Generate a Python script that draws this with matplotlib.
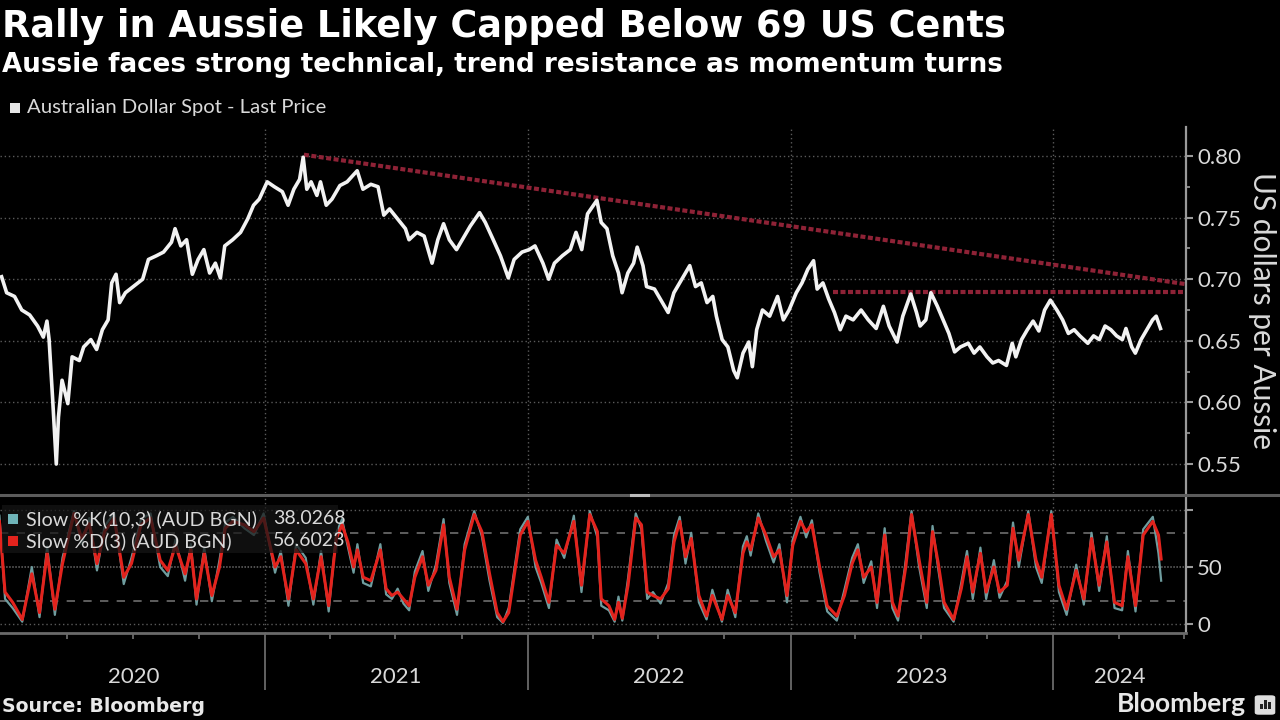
import matplotlib
matplotlib.use("Agg")
import matplotlib.pyplot as plt
import matplotlib.dates as mdates
import matplotlib.ticker as mticker
from matplotlib.patches import Rectangle, FancyBboxPatch
from matplotlib.lines import Line2D
import pandas as pd

# ---------------- data ----------------
price_dates = [
    "2020-01-01", "2020-01-08", "2020-01-19", "2020-01-29", "2020-02-09", "2020-02-20", "2020-02-28",
    "2020-03-04", "2020-03-07", "2020-03-12", "2020-03-17", "2020-03-20", "2020-03-25", "2020-04-02",
    "2020-04-08", "2020-04-18", "2020-04-24", "2020-05-04", "2020-05-12", "2020-05-20", "2020-05-28",
    "2020-06-02", "2020-06-08", "2020-06-13", "2020-06-21", "2020-07-02", "2020-07-15", "2020-07-23",
    "2020-08-03", "2020-08-13", "2020-08-24", "2020-08-29", "2020-09-06", "2020-09-14", "2020-09-22",
    "2020-09-30", "2020-10-08", "2020-10-16", "2020-10-24", "2020-10-31", "2020-11-06", "2020-11-17",
    "2020-11-28", "2020-12-08", "2020-12-16", "2020-12-24",
    "2021-01-04", "2021-01-14", "2021-01-25", "2021-02-02", "2021-02-10", "2021-02-18", "2021-02-23",
    "2021-02-28", "2021-03-06", "2021-03-14", "2021-03-19", "2021-03-27", "2021-04-04", "2021-04-15",
    "2021-04-25", "2021-05-09", "2021-05-17", "2021-05-28", "2021-06-07", "2021-06-15", "2021-06-23",
    "2021-07-04", "2021-07-15", "2021-07-20", "2021-07-31", "2021-08-10", "2021-08-21", "2021-08-29",
    "2021-09-06", "2021-09-14", "2021-09-24", "2021-10-02", "2021-10-13", "2021-10-26", "2021-11-03",
    "2021-11-14", "2021-11-24", "2021-12-05", "2021-12-13", "2021-12-24",
    "2022-01-03", "2022-01-11", "2022-01-22", "2022-01-30", "2022-02-07", "2022-02-18", "2022-03-01",
    "2022-03-09", "2022-03-17", "2022-03-25", "2022-04-07", "2022-04-13", "2022-04-21", "2022-04-29",
    "2022-05-07", "2022-05-12", "2022-05-20", "2022-05-28", "2022-06-02", "2022-06-10", "2022-06-15",
    "2022-06-26", "2022-07-07", "2022-07-15", "2022-07-23", "2022-08-03", "2022-08-14", "2022-08-22",
    "2022-08-30", "2022-09-07", "2022-09-15", "2022-09-20", "2022-09-28", "2022-10-06", "2022-10-14",
    "2022-10-19", "2022-10-27", "2022-11-04", "2022-11-09", "2022-11-15", "2022-11-23", "2022-12-03",
    "2022-12-14", "2022-12-22", "2022-12-30",
    "2023-01-09", "2023-01-17", "2023-01-25", "2023-02-02", "2023-02-07", "2023-02-15", "2023-02-23",
    "2023-03-03", "2023-03-11", "2023-03-19", "2023-03-29", "2023-04-09", "2023-04-19", "2023-04-30",
    "2023-05-10", "2023-05-18", "2023-05-29", "2023-06-06", "2023-06-17", "2023-06-25", "2023-06-30",
    "2023-07-08", "2023-07-15", "2023-07-24", "2023-08-01", "2023-08-09", "2023-08-17", "2023-08-25",
    "2023-09-05", "2023-09-13", "2023-09-21", "2023-10-01", "2023-10-09", "2023-10-17", "2023-10-28",
    "2023-11-05", "2023-11-10", "2023-11-18", "2023-11-26", "2023-12-04", "2023-12-12", "2023-12-20",
    "2023-12-28",
    "2024-01-06", "2024-01-14", "2024-01-22", "2024-01-30", "2024-02-07", "2024-02-18", "2024-02-26",
    "2024-03-05", "2024-03-13", "2024-03-21", "2024-03-29", "2024-04-06", "2024-04-11", "2024-04-19",
    "2024-04-24", "2024-05-02", "2024-05-10", "2024-05-18", "2024-05-23", "2024-05-29",
]
price_vals = [
    0.702, 0.689, 0.686, 0.675, 0.671, 0.662, 0.653,
    0.666, 0.651, 0.602, 0.550, 0.588, 0.618, 0.599,
    0.637, 0.634, 0.645, 0.651, 0.643, 0.659, 0.667,
    0.697, 0.704, 0.681, 0.689, 0.694, 0.700, 0.716,
    0.719, 0.722, 0.730, 0.741, 0.727, 0.732, 0.704,
    0.716, 0.724, 0.705, 0.713, 0.701, 0.727, 0.732,
    0.738, 0.749, 0.760, 0.765,
    0.779, 0.775, 0.771, 0.760, 0.773, 0.781, 0.799,
    0.773, 0.779, 0.768, 0.779, 0.760, 0.765, 0.776,
    0.779, 0.788, 0.773, 0.777, 0.775, 0.752, 0.757,
    0.749, 0.741, 0.732, 0.738, 0.735, 0.713, 0.732,
    0.745, 0.732, 0.724, 0.732, 0.743, 0.754, 0.746,
    0.732, 0.719, 0.701, 0.716, 0.722,
    0.724, 0.727, 0.713, 0.700, 0.713, 0.719, 0.724,
    0.738, 0.724, 0.753, 0.764, 0.746, 0.741, 0.719,
    0.705, 0.689, 0.705, 0.713, 0.726, 0.711, 0.694,
    0.692, 0.681, 0.673, 0.689, 0.700, 0.711, 0.694,
    0.697, 0.681, 0.686, 0.670, 0.651, 0.645, 0.626,
    0.620, 0.640, 0.649, 0.629, 0.659, 0.675, 0.670,
    0.686, 0.667, 0.675,
    0.689, 0.697, 0.708, 0.715, 0.692, 0.697, 0.684,
    0.673, 0.659, 0.670, 0.667, 0.675, 0.667, 0.660,
    0.678, 0.662, 0.649, 0.670, 0.688, 0.673, 0.662,
    0.667, 0.689, 0.678, 0.667, 0.656, 0.641, 0.645,
    0.648, 0.640, 0.645, 0.637, 0.632, 0.634, 0.630,
    0.648, 0.637, 0.651, 0.659, 0.666, 0.658, 0.675,
    0.683,
    0.675, 0.667, 0.656, 0.659, 0.654, 0.648, 0.654,
    0.651, 0.662, 0.659, 0.654, 0.651, 0.660, 0.645,
    0.640, 0.651, 0.659, 0.667, 0.670, 0.660,
]

# resistance lines
trend_dates = ["2021-02-24", "2024-07-03"]
trend_vals = [0.801, 0.696]
flat_dates = ["2023-03-01", "2024-07-03"]
flat_vals = [0.6895, 0.6895]

# slow stochastics, dates as days after 2020-01-01
stoch_day = [
    -3, 4.8, 15.4, 28.7, 42.0, 52.7, 63.3, 74.0, 84.6, 100.6, 111.2, 121.8, 132.5, 143.1, 156.4,
    169.7, 180.4, 193.7, 207.0, 220.3, 230.9, 241.6, 254.9, 262.9, 270.8, 281.5, 292.1, 302.7,
    310.7, 321.4, 337.3, 350.6, 364.0, 379.9, 387.9, 398.5, 409.2, 422.5, 433.1, 443.8, 454.4,
    465.0, 473.0, 481.0, 489.0, 494.3, 502.3, 513.0, 526.2, 534.2, 542.2, 550.2, 558.2, 566.2,
    574.1, 584.8, 592.8, 603.4, 614.0, 622.0, 632.7, 643.3, 656.6, 667.2, 677.9, 688.5, 696.5,
    704.5, 720.5, 731.1, 741.8, 749.7, 760.4, 771.0, 781.6, 795.0, 805.6, 817.1, 827.7, 833.1,
    843.7, 851.7, 857.0, 862.3, 870.3, 881.0, 888.9, 896.9, 904.9, 915.5, 926.2, 934.2, 942.1,
    950.1, 958.1, 968.7, 979.4, 987.4, 1000.7, 1008.7, 1019.3, 1029.9, 1035.3, 1040.6, 1051.2,
    1061.9, 1072.5, 1080.5, 1091.1, 1099.1, 1109.8, 1117.7, 1125.7, 1136.4, 1147.0, 1160.3,
    1170.9, 1181.6, 1189.6, 1197.6, 1208.2, 1216.2, 1226.8, 1237.5, 1245.4, 1256.1, 1264.1,
    1274.7, 1285.3, 1293.3, 1301.3, 1309.3, 1322.6, 1333.2, 1341.2, 1349.2, 1359.8, 1367.8,
    1378.5, 1386.4, 1397.1, 1405.1, 1413.1, 1426.3, 1437.0, 1445.0, 1458.3, 1468.9, 1479.6,
    1492.9, 1503.5, 1514.2, 1524.8, 1535.4, 1546.1, 1556.7, 1564.7, 1575.3, 1585.9, 1599.3,
    1607.2, 1610.9,
]
stoch_d = [
    90, 28, 19, 4, 44, 10, 62, 13, 53, 97, 75, 88, 53, 81, 93,
    41, 53, 87, 93, 56, 47, 69, 44, 65, 22, 62, 25, 50,
    84, 90, 87, 81, 93, 50, 59, 22, 65, 53, 22, 59, 16,
    75, 87, 72, 50, 65, 41, 38, 65, 31, 25, 28, 22, 16,
    41, 59, 34, 47, 87, 41, 13, 65, 96, 81, 44, 10, 2,
    10, 78, 90, 56, 41, 19, 69, 62, 90, 34, 96, 81, 22,
    16, 4, 19, 5, 34, 93, 87, 28, 25, 22, 31, 72, 90,
    59, 75, 25, 7, 25, 4, 25, 10, 62, 72, 65, 93,
    78, 59, 65, 25, 69, 90, 81, 87, 50, 16, 7,
    25, 53, 65, 41, 50, 19, 78, 19, 7, 50, 96,
    56, 19, 81, 53, 19, 4, 31, 59, 28, 62, 28,
    50, 28, 34, 84, 56, 96, 56, 41, 96, 34, 13,
    47, 22, 75, 34, 72, 19, 16, 59, 16, 78, 90,
    78, 57,
]
stoch_k = [
    95, 22, 14, 2, 50, 6, 68, 8, 58, 99, 70, 93, 47, 86, 97,
    35, 58, 92, 97, 50, 42, 74, 38, 70, 17, 67, 20, 56,
    89, 94, 84, 78, 97, 45, 64, 16, 70, 58, 17, 64, 11,
    80, 92, 68, 45, 70, 36, 33, 70, 26, 22, 31, 18, 12,
    46, 64, 29, 52, 92, 36, 8, 70, 99, 77, 38, 6, 1,
    14, 83, 94, 50, 36, 14, 74, 58, 95, 28, 99, 76, 16,
    12, 2, 24, 3, 40, 97, 83, 22, 28, 18, 36, 78, 94,
    53, 80, 19, 4, 30, 2, 30, 6, 68, 77, 60, 97,
    73, 54, 70, 19, 74, 94, 76, 91, 45, 11, 3,
    30, 58, 70, 36, 55, 14, 84, 14, 3, 56, 99,
    50, 14, 86, 48, 14, 2, 36, 64, 22, 67, 22,
    56, 23, 38, 89, 50, 99, 50, 36, 99, 28, 8,
    52, 17, 80, 29, 77, 14, 12, 64, 11, 83, 94,
    62, 38,
]

price_y_ticks = [0.55, 0.60, 0.65, 0.70, 0.75, 0.80]
price_y_labels = ["0.55", "0.60", "0.65", "0.70", "0.75", "0.80"]
stoch_y_ticks = [0, 50, 100]
stoch_y_labels = ["0", "50", ""]
year_starts = ["2021-01-01", "2022-01-01", "2023-01-01", "2024-01-01"]
year_labels = ["2020", "2021", "2022", "2023", "2024"]
year_label_dates = ["2020-07-02", "2021-07-02", "2022-07-02", "2023-07-02", "2024-04-03"]

# ---------------- style ----------------
BG = "black"
TXT = "#d9d9d9"
GRID = "#5a5a5a"
AXC = "#9a9a9a"
RES = "#8e2236"
FONT = ["Lato", "DejaVu Sans"]
plt.rcParams["font.family"] = FONT

W, H = 1280, 720
fig = plt.figure(figsize=(12.8, 7.2), dpi=100, facecolor=BG)


def fx(px):
    return px / W


def fy(py):
    return 1 - py / H


x_right = 1186
ax1 = fig.add_axes([0, fy(493), fx(x_right), (493 - 127) / H])
ax2 = fig.add_axes([0, fy(633), fx(x_right), (633 - 497) / H], sharex=ax1)

for ax in (ax1, ax2):
    ax.set_facecolor(BG)
    for s in ("top", "left", "bottom"):
        ax.spines[s].set_visible(False)
    ax.spines["right"].set_color(AXC)
    ax.spines["right"].set_linewidth(1.6)
    ax.yaxis.tick_right()

pd_price = pd.to_datetime(price_dates)
ax1.plot(pd_price, price_vals, color="#f2f2f2", lw=2.6, solid_joinstyle="round", zorder=3)
ax1.plot(pd.to_datetime(trend_dates), trend_vals, color=RES, lw=3, ls=(0, (1.2, 0.6)), zorder=2)
ax1.plot(pd.to_datetime(flat_dates), flat_vals, color=RES, lw=3, ls=(0, (1.2, 0.6)), zorder=2)

xmin = pd.Timestamp("2019-12-29 19:00")
xmax = pd.Timestamp("2024-07-03 10:00")
ax1.set_xlim(xmin, xmax)
ax1.set_ylim(0.5265, 0.8235)
ax1.set_yticks(price_y_ticks)
ax1.set_yticklabels(price_y_labels)
ax1.set_yticks([0.575, 0.625, 0.675, 0.725, 0.775], minor=True)
ax1.tick_params(axis="y", which="major", direction="out", length=5, width=1.5, color=AXC,
                labelcolor=TXT, labelsize=16, pad=3)
ax1.tick_params(axis="y", which="minor", direction="out", length=3, width=1.2, color=AXC)
ax1.grid(axis="y", which="major", color=GRID, lw=1, ls=(0, (1, 2)))

ax1.xaxis.set_major_locator(mticker.FixedLocator(mdates.date2num(pd.to_datetime(year_starts))))
ax1.xaxis.set_minor_locator(mdates.MonthLocator(bymonth=[4, 7, 10]))
ax1.grid(axis="x", which="major", color=GRID, lw=1, ls=(0, (1, 2)))
ax1.tick_params(axis="x", which="both", length=0, labelbottom=False)

# stochastics panel
stoch_dates = pd.Timestamp("2020-01-01") + pd.to_timedelta(stoch_day, unit="D")
ax2.plot(stoch_dates, stoch_k, color="#6f9d9f", lw=1.6, zorder=3)
ax2.plot(stoch_dates, stoch_d, color="#e3231d", lw=2.2, zorder=4)
ax2.set_ylim(-7.9, 111.4)
ax2.set_yticks(stoch_y_ticks)
ax2.set_yticklabels(stoch_y_labels)
ax2.tick_params(axis="y", which="major", direction="out", length=5, width=1.5, color=AXC,
                labelcolor=TXT, labelsize=16, pad=3)
for v in (0, 100):
    ax2.axhline(v, color=GRID, lw=1, ls=(0, (1, 2)), zorder=1)
ax2.axhline(50, color="#6a6a6a", lw=1.1, ls=(0, (1, 1)), zorder=1)
for v in (20, 80):
    ax2.axhline(v, color="#6e6e6e", lw=1.2, ls=(0, (5, 5)), zorder=1)
ax2.grid(axis="x", which="major", color=GRID, lw=1, ls=(0, (1, 2)))
ax2.spines["bottom"].set_visible(True)
ax2.spines["bottom"].set_color("#6a6a6a")
ax2.spines["bottom"].set_linewidth(2)
ax2.tick_params(axis="x", which="major", direction="out", length=41, width=1.3, color="#6a6a6a",
                labelbottom=False)
ax2.tick_params(axis="x", which="minor", direction="out", length=4, width=1.3, color="#6a6a6a",
                labelbottom=False)

trans = ax2.get_xaxis_transform()
for lab, d in zip(year_labels, year_label_dates):
    ax2.text(pd.Timestamp(d), -(677 - 633) / (633 - 497), lab, transform=trans, ha="center",
             va="center", color=TXT, fontsize=16)

# separator between panes
fig.add_artist(Line2D([0, 1], [fy(495), fy(495)], color="#5c5c5c", lw=2.2))
fig.add_artist(Line2D([fx(631), fx(648)], [fy(495), fy(495)], color="#bbbbbb", lw=2.2))

# ---------------- texts ----------------
fig.text(fx(2), fy(37), "Rally in Aussie Likely Capped Below 69 US Cents", color="white",
         fontsize=26.4, fontweight="bold", family="DejaVu Sans", va="baseline", ha="left")
fig.text(fx(2), fy(72), "Aussie faces strong technical, trend resistance as momentum turns",
         color="white", fontsize=18.8, fontweight="bold", family="DejaVu Sans", va="baseline",
         ha="left")

fig.patches.append(Rectangle((fx(10), fy(113)), fx(10), 10 / H, transform=fig.transFigure,
                             facecolor="#e6e6e6", edgecolor="none"))
fig.text(fx(27), fy(107), "Australian Dollar Spot - Last Price", color=TXT, fontsize=14.6,
         va="center", ha="left")

fig.text(fx(1262), fy(311), "US dollars per Aussie", color=TXT, fontsize=21.5, rotation=270,
         va="center", ha="center")

# stochastic legend box
fig.patches.append(Rectangle((fx(2), fy(553)), fx(336), 48 / H, transform=fig.transFigure,
                             facecolor="#151515", edgecolor="none", alpha=0.72, zorder=5))
fig.patches.append(Rectangle((fx(8), fy(524)), fx(10), 10 / H, transform=fig.transFigure,
                             facecolor="#6fb4b8", edgecolor="none", zorder=6))
fig.patches.append(Rectangle((fx(8), fy(546)), fx(10), 10 / H, transform=fig.transFigure,
                             facecolor="#e3231d", edgecolor="none", zorder=6))
fig.text(fx(26), fy(519), "Slow %K(10,3) (AUD BGN)", color=TXT, fontsize=14.2, va="center",
         ha="left", zorder=7)
fig.text(fx(273), fy(519), "38.0268", color=TXT, fontsize=14, va="center", ha="left", zorder=7)
fig.text(fx(26), fy(541), "Slow %D(3) (AUD BGN)", color=TXT, fontsize=14.2, va="center",
         ha="left", zorder=7)
fig.text(fx(273), fy(541), "56.6023", color=TXT, fontsize=14, va="center", ha="left", zorder=7)

# footer
fig.text(fx(2), fy(712), "Source: Bloomberg", color="#e8e8e8", fontsize=13.6, fontweight="bold",
         family="DejaVu Sans", va="baseline", ha="left")
fig.text(fx(1246), fy(712), "Bloomberg", color="#e8e8e8", fontsize=19, fontweight="bold",
         va="baseline", ha="right")
fig.patches.append(FancyBboxPatch((fx(1256), fy(714)), fx(18), 18 / H,
                                  boxstyle="round,pad=0.001,rounding_size=0.003",
                                  transform=fig.transFigure, facecolor="#dddddd",
                                  edgecolor="none"))
for i, hgt in enumerate([5, 9, 7]):
    fig.patches.append(Rectangle((fx(1260 + i * 4), fy(709)), fx(2.5), hgt / H,
                                 transform=fig.transFigure, facecolor="#222222", edgecolor="none",
                                 zorder=3))

fig.savefig("out.png", dpi=100, facecolor=BG)
